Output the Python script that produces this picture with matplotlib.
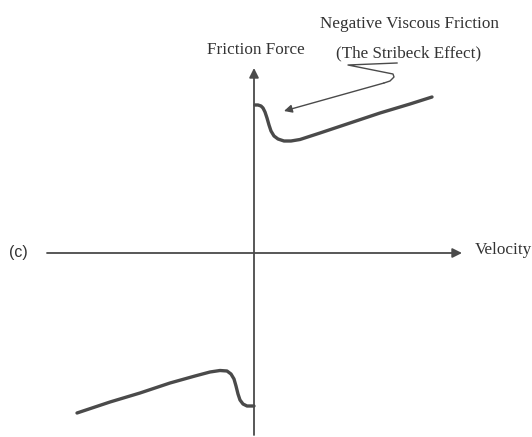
import matplotlib
matplotlib.use("Agg")
import matplotlib.pyplot as plt

# Friction force vs. velocity with the Stribeck dip near zero velocity
vel_pos = [1, 4, 7, 9, 11, 13, 15, 17, 20, 24, 30, 37, 46, 66, 96, 126, 156, 178]
force_pos = [148, 148, 147, 145, 141, 135, 128, 122, 117, 114, 112, 112, 113.5,
             120, 130, 140, 149, 156]

vel_neg = [-177, -144, -114, -84, -59, -44, -34, -27, -23, -20, -18, -16, -14,
           -11, -7, 0]
force_neg = [-160, -149, -140, -130, -123, -119, -117.5, -118, -121, -126, -133,
             -141, -147, -151, -153, -153]

# squiggle leading from the caption down to the curve
leader_x = [143, 94, 139, 140, 136, 130]
leader_y = [190, 188, 179, 176, 172, 170]
leader_tip = (30, 142)

line_col = "#4a4a4a"
text_col = "#333333"
serif = ["Liberation Serif", "DejaVu Serif"]
fs = 12.3

fig = plt.figure(figsize=(5.32, 4.37), dpi=100)
ax = fig.add_axes([0, 0, 1, 1])
ax.set_xlim(-254, 278)
ax.set_ylim(-184, 253)
ax.axis("off")

# axes with arrowheads
ax.annotate("", xy=(208, 0), xytext=(-207, 0),
            arrowprops=dict(arrowstyle="-|>", color=line_col, lw=1.3,
                            mutation_scale=14, shrinkA=0, shrinkB=0))
ax.annotate("", xy=(0, 185), xytext=(0, -182),
            arrowprops=dict(arrowstyle="-|>", color=line_col, lw=1.3,
                            mutation_scale=14, shrinkA=0, shrinkB=0))

ax.plot(vel_pos, force_pos, color=line_col, lw=2.4, solid_capstyle="round",
        solid_joinstyle="round")
ax.plot(vel_neg, force_neg, color=line_col, lw=2.4, solid_capstyle="round",
        solid_joinstyle="round")

ax.plot(leader_x, leader_y, color=line_col, lw=1.0, solid_joinstyle="round")
ax.annotate("", xy=leader_tip, xytext=(leader_x[-1], leader_y[-1]),
            arrowprops=dict(arrowstyle="-|>", color=line_col, lw=1.0,
                            mutation_scale=12, shrinkA=0, shrinkB=0))

ax.text(2, 203, "Friction Force", family=serif, fontsize=fs, color=text_col,
        ha="center", va="center")
ax.text(155, 229, "Negative Viscous Friction", family=serif, fontsize=fs,
        color=text_col, ha="center", va="center")
ax.text(155, 200, "(The Stribeck Effect)", family=serif, fontsize=fs,
        color=text_col, ha="center", va="center")
ax.text(221, 3, "Velocity", family=serif, fontsize=fs, color=text_col,
        ha="left", va="center")
ax.text(-236, 0, "(c)", family=["Liberation Sans", "DejaVu Sans"], fontsize=11.5,
        color=text_col, ha="center", va="center")

fig.savefig("out.png", dpi=100)
